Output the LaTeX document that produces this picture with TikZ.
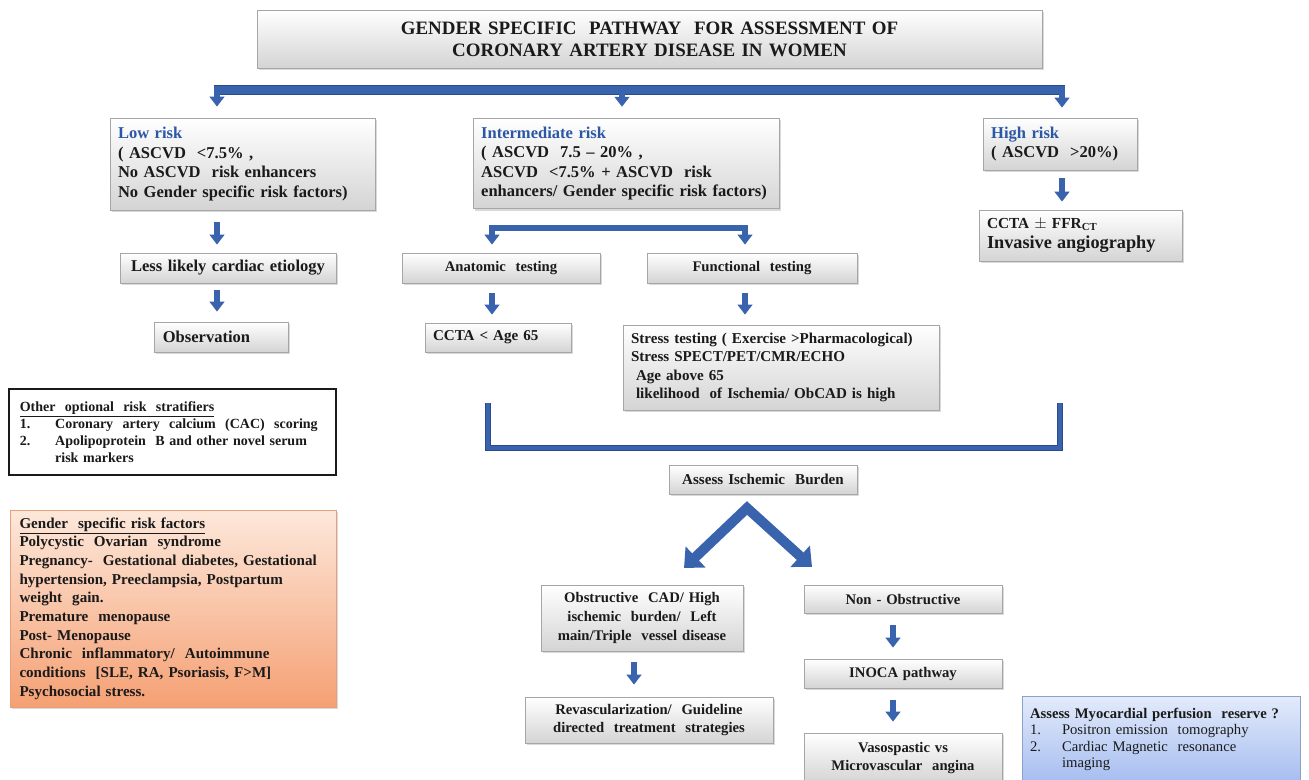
\documentclass[tikz,border=0pt]{standalone}
\usepackage{fontspec}
\setmainfont{Liberation Serif}
\usepackage{xcolor}
\usetikzlibrary{arrows.meta,shadows}
\definecolor{ink}{HTML}{1A1A1A}
\definecolor{hdblue}{HTML}{2B57A5}
\definecolor{arrblue}{HTML}{3A63AE}
\definecolor{arredge}{HTML}{284B8C}
\definecolor{cardline}{HTML}{A6A6A6}
\definecolor{cardgray}{HTML}{D4D4D4}
\definecolor{peachtop}{HTML}{FDE8DB}
\definecolor{peachbot}{HTML}{F5A073}
\definecolor{peachline}{HTML}{E6A07A}
\definecolor{skytop}{HTML}{E3EBFB}
\definecolor{skybot}{HTML}{A6BDF0}
\definecolor{skyline}{HTML}{8CA2CB}
\tikzset{
  card/.style={draw=cardline,line width=0.6pt,top color=white,bottom color=cardgray,
               text=ink,inner xsep=6pt,inner ysep=2pt,
               font=\bfseries\fontsize{12.4}{14.6}\selectfont,
               drop shadow={shadow xshift=1.2pt,shadow yshift=-1.4pt,opacity=0.3}},
  leftcard/.style={card,align=left},
  midcard/.style={card,align=center},
  plaincard/.style={draw=ink,line width=1.4pt,fill=white,text=ink,align=left,
                    inner xsep=8pt,inner ysep=2pt,
                    font=\bfseries\fontsize{10.5}{12.8}\selectfont},
  peachcard/.style={draw=peachline,line width=0.6pt,top color=peachtop,
                    bottom color=peachbot,text=ink,align=left,
                    inner xsep=7pt,inner ysep=2pt,
                    font=\bfseries\fontsize{11.3}{14}\selectfont,
                    drop shadow={shadow xshift=1.2pt,shadow yshift=-1.4pt,opacity=0.3}},
  skycard/.style={draw=skyline,line width=0.6pt,top color=skytop,
                  bottom color=skybot,text=ink,align=left,
                  inner xsep=6pt,inner ysep=2pt,
                  font=\fontsize{11}{12.4}\selectfont},
  downarr/.style={-{Triangle[width=11pt,length=7.5pt]},line width=4pt,
                  draw=arrblue},
  splitarr/.style={{Triangle[width=11pt,length=7.5pt]}-{Triangle[width=11pt,length=7.5pt]},
                   line width=4.5pt,draw=arrblue,line join=miter},
  busbar/.style={draw=arredge,double=arrblue,double distance=5.5pt,line width=1pt},
  mergebar/.style={draw=arredge,double=arrblue,double distance=2.6pt,line width=1pt},
  chevarr/.style={{Triangle[width=21pt,length=12pt]}-{Triangle[width=21pt,length=12pt]},
                  line width=7.5pt,draw=arrblue,line join=miter}
}
\newcommand{\hd}[1]{{\color{hdblue}#1}}

\begin{document}
\begin{tikzpicture}[x=0.75pt,y=-0.75pt]
  \path[use as bounding box] (0,0) rectangle (1309,779);

  % title
  \node[midcard,text width=576.75pt,minimum height=43.5pt,
        font=\bfseries\fontsize{14.2}{16.5}\selectfont] (title) at (649.5,39)
    {GENDER SPECIFIC~ PATHWAY~ FOR ASSESSMENT OF\\
     CORONARY ARTERY DISEASE IN WOMEN};

  % risk groups
  \node[leftcard,text width=186.75pt,minimum height=69pt] (low) at (242.5,164)
    {\hd{Low risk}\\
     ( ASCVD~ <7.5\% ,\\
     No ASCVD~ risk enhancers\\
     No Gender specific risk factors)};
  \node[leftcard,text width=218pt,minimum height=68pt] (inter) at (626.5,163.5)
    {\hd{Intermediate risk}\\
     ( ASCVD~ 7.5 -- 20\% ,\\
     ASCVD~ <7.5\% + ASCVD~ risk\\
     enhancers/ Gender specific risk factors)};
  \node[leftcard,text width=104pt,minimum height=39pt] (high) at (1060.5,144)
    {\hd{High risk}\\
     ( ASCVD~ >20\%)};

  % low risk branch
  \node[midcard,text width=150pt,minimum height=22.5pt] (less) at (228,268)
    {Less likely cardiac etiology};
  \node[leftcard,text width=88pt,minimum height=22.5pt] (obs) at (221.5,337)
    {Observation};

  % intermediate risk branch
  \node[midcard,text width=136.5pt,minimum height=22.5pt,
        font=\bfseries\fontsize{11}{13.5}\selectfont] (anat) at (501,268)
    {Anatomic~ testing};
  \node[midcard,text width=145.5pt,minimum height=22.5pt,
        font=\bfseries\fontsize{11}{13.5}\selectfont] (func) at (752,268)
    {Functional~ testing};
  \node[leftcard,text width=97.5pt,minimum height=21.75pt,
        font=\bfseries\fontsize{11.3}{13.5}\selectfont] (ccta) at (498,337.5)
    {CCTA < Age 65};
  \node[leftcard,text width=225pt,minimum height=63.75pt,
        font=\bfseries\fontsize{11.3}{13.7}\selectfont] (stress) at (781,367.5)
    {Stress testing ( Exercise >Pharmacological)\\
     Stress SPECT/PET/CMR/ECHO\\
     \ Age above 65\\
     \ likelihood~ of Ischemia/ ObCAD is high};

  % high risk branch
  \node[leftcard,text width=140.25pt,minimum height=38.25pt,
        font=\bfseries\fontsize{11.5}{15}\selectfont] (ffr) at (1080.5,235.5)
    {CCTA $\pm$ FFR\textsubscript{CT}\\
     {\fontsize{13.7}{15}\selectfont Invasive angiography}};

  % ischemic burden
  \node[midcard,text width=129pt,minimum height=21.75pt,
        font=\bfseries\fontsize{11.3}{13}\selectfont] (assess) at (763,479.5)
    {Assess Ischemic~ Burden};
  \node[midcard,text width=139.5pt,minimum height=49.5pt,
        font=\bfseries\fontsize{11}{14}\selectfont] (obstr) at (642,618)
    {Obstructive~ CAD/ High\\
     ischemic~ burden/~ Left\\
     main/Triple~ vessel disease};
  \node[midcard,text width=174pt,minimum height=34.5pt,
        font=\bfseries\fontsize{11}{14}\selectfont] (revasc) at (649,720)
    {Revascularization/~ Guideline\\
     directed~ treatment~ strategies};
  \node[midcard,text width=136.5pt,minimum height=21pt,
        font=\bfseries\fontsize{11}{13.5}\selectfont] (nonob) at (903,599)
    {Non - Obstructive};
  \node[midcard,text width=136.5pt,minimum height=21.75pt,
        font=\bfseries\fontsize{11}{13.5}\selectfont] (inoca) at (903,673.5)
    {INOCA pathway};
  \node[midcard,text width=136.5pt,minimum height=37.5pt,
        font=\bfseries\fontsize{11}{14}\selectfont] (vaso) at (903,758)
    {Vasospastic vs\\
     Microvascular~ angina};

  % side notes
  \node[plaincard,text width=229pt,minimum height=64.5pt] (other) at (172.5,432)
    {\underline{Other~ optional~ risk~ stratifiers}\\
     \makebox[26.5pt][l]{1.}Coronary~ artery~ calcium~ (CAC)~ scoring\\
     \makebox[26.5pt][l]{2.}Apolipoprotein~ B and other novel serum\\
     \hspace*{26.5pt}risk markers};
  \node[peachcard,text width=231pt,minimum height=147.75pt] (gender) at (173.5,608.5)
    {\underline{Gender~ specific risk factors}\\
     Polycystic~ Ovarian~ syndrome\\
     Pregnancy-~ Gestational diabetes, Gestational\\
     hypertension, Preeclampsia, Postpartum\\
     weight~ gain.\\
     Premature~ menopause\\
     Post- Menopause\\
     Chronic~ inflammatory/~ Autoimmune\\
     conditions~ [SLE, RA, Psoriasis, F>M]\\
     Psychosocial stress.};
  \node[skycard,text width=196.5pt,minimum height=65pt] (mpr) at (1161,739.5)
    {\textbf{Assess Myocardial perfusion~ reserve ?}\\
     \makebox[24pt][l]{1.}Positron emission~ tomography\\
     \makebox[24pt][l]{2.}Cardiac Magnetic~ resonance\\
     \hspace*{24pt}imaging};

  % connector points
  \coordinate (bus1) at (217,90);
  \coordinate (bus2) at (622,90);
  \coordinate (bus3) at (1062,90);
  \coordinate (colB) at (492,0);
  \coordinate (colC) at (745,0);
  \coordinate (colD) at (634,0);
  \coordinate (colE) at (893,0);
  \coordinate (brk) at (0,228);
  \coordinate (mL) at (488,403);
  \coordinate (mR) at (1060,403);
  \coordinate (mB) at (0,448);
  \coordinate (apex) at (747,508);
  \coordinate (chevL) at (684,568);
  \coordinate (chevR) at (812,567);

  % top bus
  \draw[busbar] ([xshift=-2pt]bus1) -- ([xshift=2pt]bus3);
  \draw[downarr,shorten >=8.25pt] (bus1) -- (bus1 |- low.north);
  \draw[downarr,shorten >=8.25pt] (bus2) -- (bus2 |- inter.north);
  \draw[downarr,shorten >=7.5pt] (bus3) -- (bus3 |- high.north);

  % low risk arrows
  \draw[downarr,shorten <=9pt,shorten >=6pt] (bus1 |- low.south) -- (bus1 |- less.north);
  \draw[downarr,shorten <=5.25pt,shorten >=7.5pt] (bus1 |- less.south) -- (bus1 |- obs.north);

  % intermediate split
  \draw[splitarr,shorten <=6pt,shorten >=6pt]
    (colB |- anat.north) -- (colB |- brk) -- (colC |- brk) -- (colC |- func.north);
  \draw[downarr,shorten <=7.5pt,shorten >=6pt] (colB |- anat.south) -- (colB |- ccta.north);
  \draw[downarr,shorten <=7.5pt,shorten >=7.5pt] (colC |- func.south) -- (colC |- stress.north);

  % high risk arrow
  \draw[downarr,shorten <=6pt,shorten >=6pt] (bus3 |- high.south) -- (bus3 |- ffr.north);

  % merge bracket
  \draw[mergebar] (mL) -- (mL |- mB) -- (mR |- mB) -- (mR);

  % chevron split
  \draw[chevarr] (chevL) -- (apex) -- (chevR);

  % lower arrows
  \draw[downarr,shorten <=8.25pt,shorten >=9pt] (colD |- obstr.south) -- (colD |- revasc.north);
  \draw[downarr,shorten <=9pt,shorten >=8.25pt] (colE |- nonob.south) -- (colE |- inoca.north);
  \draw[downarr,shorten <=9pt,shorten >=8.25pt] (colE |- inoca.south) -- (colE |- vaso.north);
\end{tikzpicture}
\end{document}
